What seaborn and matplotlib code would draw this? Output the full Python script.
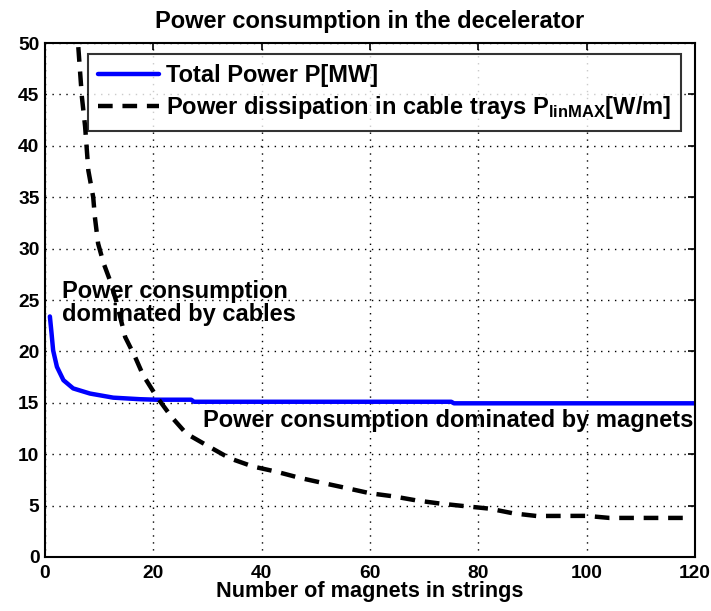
import matplotlib
matplotlib.use("Agg")
import matplotlib.pyplot as plt
import seaborn as sns
import pandas as pd

# ---- data ----
n_total = [0.9, 1.2, 1.5, 2.2, 3.4, 5.2, 8.3, 12.6, 17.5, 20.4, 27.0, 27.5, 75.0, 75.5, 120.0]
p_total = [23.4, 21.8, 20.1, 18.5, 17.2, 16.4, 15.9, 15.5, 15.35, 15.3, 15.3, 15.1, 15.1, 14.95, 14.95]

n_lin = [6.15, 6.8, 7.4, 8.0, 8.9, 9.2, 9.8, 10.8, 12.0, 13.2, 14.8, 16.6, 18.1, 20.6, 23.4, 26.1,
         30.4, 34.1, 38.4, 42.7, 47.0, 51.3, 55.7, 60.0, 64.3, 68.6, 72.9, 77.2, 82.1, 86.4,
         90.7, 100.0, 104.2, 118.4]
p_lin = [49.6, 44.8, 41.9, 37.6, 35.0, 33.1, 30.5, 28.6, 26.9, 24.8, 21.4, 19.5, 17.7, 15.6, 13.6, 12.0,
         10.7, 9.6, 8.8, 8.3, 7.7, 7.2, 6.7, 6.2, 5.9, 5.5, 5.2, 4.96, 4.7, 4.25,
         3.99, 4.0, 3.8, 3.8]

x_ticks = [0, 20, 40, 60, 80, 100, 120]
y_ticks = [0, 5, 10, 15, 20, 25, 30, 35, 40, 45, 50]

title = "Power consumption in the decelerator"
xlabel = "Number of magnets in strings"
label_total = "Total Power P[MW]"
label_lin = r"Power dissipation in cable trays P$_{\mathbf{linMAX}}$[W/m]"
note_cables_1 = "Power consumption"
note_cables_2 = "dominated by cables"
note_magnets = "Power consumption dominated by magnets"

# ---- style ----
sns.set_style("white")
plt.rcParams["font.family"] = ["Liberation Sans", "DejaVu Sans"]
plt.rcParams["font.weight"] = "bold"
plt.rcParams["text.color"] = "black"
plt.rcParams["axes.labelcolor"] = "black"
plt.rcParams["xtick.color"] = "black"
plt.rcParams["ytick.color"] = "black"
plt.rcParams["mathtext.fontset"] = "custom"
plt.rcParams["mathtext.bf"] = "Liberation Sans:bold"
plt.rcParams["mathtext.rm"] = "Liberation Sans:bold"
plt.rcParams["mathtext.default"] = "bf"

FS = 17
TICK_FS = 13.8

fig = plt.figure(figsize=(7.11, 6.11), dpi=100)
ax = fig.add_axes([0.0633, 0.0884, 0.9142, 0.8412])

df_total = pd.DataFrame({"n": n_total, "p": p_total})
df_lin = pd.DataFrame({"n": n_lin, "p": p_lin})

sns.lineplot(data=df_total, x="n", y="p", ax=ax, color="#0000ff", lw=3.2,
             label=label_total, sort=False, estimator=None)
sns.lineplot(data=df_lin, x="n", y="p", ax=ax, color="black", lw=3.2,
             label=label_lin, sort=False, estimator=None)
ax.lines[1].set_linestyle((0, (3.3, 2.2)))

ax.set_xlim(0, 120)
ax.set_ylim(0, 50)
ax.set_xticks(x_ticks)
ax.set_yticks(y_ticks)
ax.set_xticklabels([str(t) for t in x_ticks], fontsize=TICK_FS, fontweight="bold")
ax.set_yticklabels([str(t) for t in y_ticks], fontsize=TICK_FS, fontweight="bold")
ax.tick_params(direction="in", length=5, width=1.2, top=True, right=True)
ax.tick_params(axis="x", pad=6)
ax.tick_params(axis="y", pad=4)

ax.grid(True, color="black", linestyle=(0, (1, 4)), linewidth=1.0)
for s in ax.spines.values():
    s.set_color("black")
    s.set_linewidth(1.5)

ax.set_title(title, fontsize=FS, fontweight="bold", pad=11)
ax.set_xlabel(xlabel, fontsize=15.6, fontweight="bold")
ax.xaxis.set_label_coords(0.5, -0.047)
ax.set_ylabel("")

leg = ax.legend(loc="upper left", bbox_to_anchor=(0.066, 0.978), fontsize=FS,
                frameon=True, fancybox=False, handlelength=2.6, borderpad=0.42,
                labelspacing=0.3, handletextpad=0.28, borderaxespad=0)
leg.get_frame().set_edgecolor("black")
leg.get_frame().set_linewidth(1.5)
for t in leg.get_texts():
    t.set_fontweight("bold")

ax.text(3.1, 25.2, note_cables_1, fontsize=FS, fontweight="bold", va="baseline", ha="left")
ax.text(3.1, 22.95, note_cables_2, fontsize=FS, fontweight="bold", va="baseline", ha="left")
ax.text(29.15, 12.65, note_magnets, fontsize=FS, fontweight="bold", va="baseline", ha="left",
        clip_on=False)

fig.savefig("out.png", dpi=100)
